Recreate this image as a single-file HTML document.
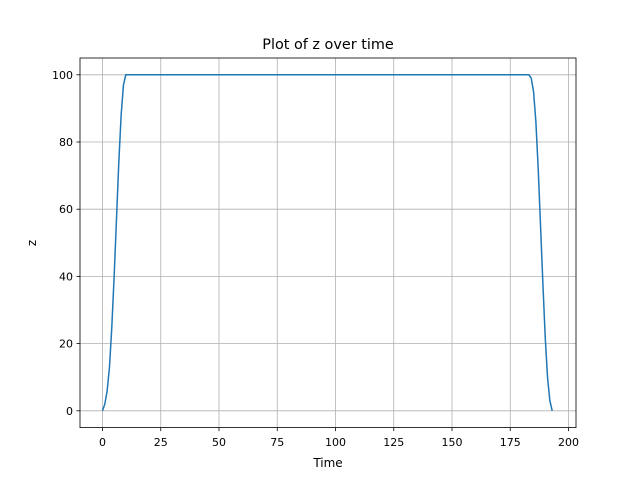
<!DOCTYPE html>
<html><head><meta charset="utf-8"><style>
body{margin:0;background:#fff;}
svg{display:block;font-family:"DejaVu Sans","Liberation Sans",sans-serif;}
</style></head><body>
<svg id="chart" width="640" height="480" viewBox="0 0 640 480">
<rect width="640" height="480" fill="#fff"/>
<text x="328" y="49" font-size="14.4" text-anchor="middle">Plot of z over time</text>
<g id="grid"></g>
<g id="ticks"></g>
<path id="line" fill="none" stroke="#1f77b4" stroke-width="1.5"/>
<rect x="80" y="58" width="496" height="369.6" fill="none" stroke="#000" stroke-width="0.8"/>
<text x="328" y="467" font-size="12" text-anchor="middle">Time</text>
<text transform="translate(36,243) rotate(-90)" font-size="12" text-anchor="middle">z</text>
</svg>
<script>
const times=[0,1,2,3,4,5,6,7,8,9,10,50,100,150,183,184,185,186,187,188,189,190,191,192,193];
const zValues=[0,2,6,13,25,40,57,74,88,97,100,100,100,100,100,99,95,86,72,55,38,22,10,3,0];
const xTicks=[0,25,50,75,100,125,150,175,200];
const yTicks=[0,20,40,60,80,100];
const NS="http://www.w3.org/2000/svg";
function sx(t){return 102.5+t*(568.5-102.5)/200;}
function sy(v){return 410.8-v*(410.8-74.8)/100;}
const grid=document.getElementById('grid'),ticks=document.getElementById('ticks');
function mk(tag,attrs,parent){const e=document.createElementNS(NS,tag);for(const k in attrs)e.setAttribute(k,attrs[k]);parent.appendChild(e);return e;}
xTicks.forEach(t=>{const x=sx(t);
const g=mk('line',{x1:x,x2:x,y1:58,y2:427.6,stroke:'#b0b0b0','stroke-width':0.8},grid);


mk('line',{x1:x,x2:x,y1:427.6,y2:431.1,stroke:'#000','stroke-width':0.8},ticks);
const l=mk('text',{x:x,y:446,'font-size':11,'text-anchor':'middle'},ticks);l.textContent=t;

});
yTicks.forEach(v=>{const y=sy(v);
const g=mk('line',{x1:80,x2:576,y1:y,y2:y,stroke:'#b0b0b0','stroke-width':0.8},grid);


mk('line',{x1:76.5,x2:80,y1:y,y2:y,stroke:'#000','stroke-width':0.8},ticks);
const l=mk('text',{x:73,y:y+4,'font-size':11,'text-anchor':'end'},ticks);l.textContent=v;

});
document.getElementById('line').setAttribute('d',times.map((t,i)=>(i?'L':'M')+sx(t).toFixed(2)+','+sy(zValues[i]).toFixed(2)).join(''));
</script>
</body></html>
